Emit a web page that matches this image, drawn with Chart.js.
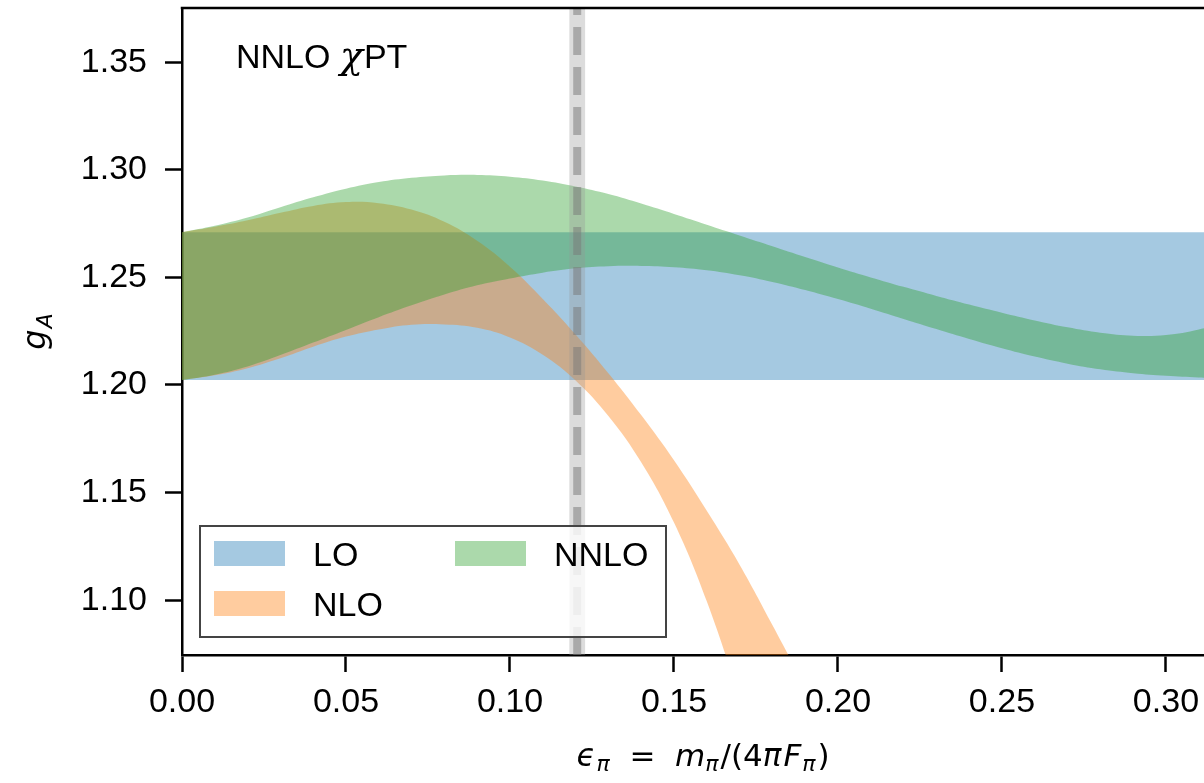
<!DOCTYPE html>
<html>
<head>
<meta charset="utf-8">
<script src="https://cdn.jsdelivr.net/npm/chart.js@4"></script>
<style>
  body { margin: 0; background: #fff; overflow: hidden; }
  #wrap { width: 1204px; height: 783px; }
</style>
</head>
<body>
<div id="wrap"><canvas id="chart"></canvas></div>
<script>
// axis limits and ticks
const X_MIN = 0, X_MAX = 0.3116
const Y_MIN = 1.0745, Y_MAX = 1.3752
const xTicks = [0.00, 0.05, 0.10, 0.15, 0.20, 0.25, 0.30]
const yTicks = [1.10, 1.15, 1.20, 1.25, 1.30, 1.35]

// LO band (constant)
const epsLO = [0.00, 0.32]
const loUpper = [1.2710, 1.2710]
const loLower = [1.2023, 1.2023]

// NLO band
const epsNLO = [0.00, 0.01, 0.02, 0.03, 0.04, 0.05, 0.06, 0.07, 0.08, 0.09, 0.10,
                0.11, 0.12, 0.13, 0.14, 0.15, 0.16, 0.17, 0.18, 0.19, 0.20]
const nloUpper = [1.2710, 1.2735, 1.2765, 1.2800, 1.2832, 1.2850, 1.2845, 1.2815, 1.2758, 1.2670, 1.2550,
                  1.2400, 1.2235, 1.2055, 1.1860, 1.1650, 1.1415, 1.1165, 1.0885, 1.0595, 1.0290]
const nloLower = [1.2023, 1.2045, 1.2078, 1.2124, 1.2178, 1.2225, 1.2258, 1.2280, 1.2281, 1.2266, 1.2221,
                  1.2141, 1.2021, 1.1856, 1.1641, 1.1361, 1.0995, 1.0540, 1.0020, 0.9450, 0.8830]

// NNLO band
const epsNNLO = [0.00, 0.01, 0.02, 0.03, 0.04, 0.05, 0.06, 0.07, 0.08, 0.09, 0.10,
                 0.11, 0.12, 0.13, 0.14, 0.15, 0.16, 0.17, 0.18, 0.19, 0.20,
                 0.21, 0.22, 0.23, 0.24, 0.25, 0.26, 0.27, 0.28, 0.29, 0.30, 0.31, 0.32]
const nnloUpper = [1.2710, 1.2740, 1.2778, 1.2826, 1.2872, 1.2912, 1.2943, 1.2963, 1.2974, 1.2976, 1.2968,
                   1.2950, 1.2922, 1.2887, 1.2843, 1.2795, 1.2745, 1.2695, 1.2645, 1.2595, 1.2546,
                   1.2500, 1.2456, 1.2414, 1.2374, 1.2336, 1.2300, 1.2268, 1.2243, 1.2229, 1.2232, 1.2258, 1.2300]
const nnloLower = [1.2023, 1.2048, 1.2086, 1.2139, 1.2197, 1.2256, 1.2315, 1.2370, 1.2420, 1.2463, 1.2495,
                   1.2522, 1.2542, 1.2552, 1.2553, 1.2547, 1.2533, 1.2510, 1.2479, 1.2441, 1.2399,
                   1.2354, 1.2307, 1.2260, 1.2214, 1.2171, 1.2132, 1.2099, 1.2073, 1.2055, 1.2043, 1.2035, 1.2030]

// physical point
const epsPhys = [0.1205]
const epsPhysErr = [0.0024]

const legendLabels = ["LO", "NLO", "NNLO"]
const bandColors = ["rgba(31,119,180,0.4)", "rgba(255,127,14,0.4)", "rgba(44,160,44,0.4)"]

const SANS = '"Liberation Sans", Arial, sans-serif'
const MATH = '"DejaVu Sans", sans-serif'

const toPoints = (xs, ys) => xs.map((x, i) => ({ x: x, y: ys[i] }))

const band = (xs, up, lo, color, order) => [{
    data: toPoints(xs, up),
    backgroundColor: color,
    borderWidth: 0,
    pointRadius: 0,
    tension: 0.4,
    fill: "+1",
    order: order
}, {
    data: toPoints(xs, lo),
    borderWidth: 0,
    pointRadius: 0,
    tension: 0.4,
    fill: false,
    order: order
}]

// draw a list of text pieces one after another
const drawPieces = (ctx, pieces, x, y, align) => {
    let total = 0
    pieces.forEach(p => { ctx.font = p.font; p.w = ctx.measureText(p.text).width; total += p.w + (p.gap || 0) })
    let cx = align === "center" ? x - total / 2 : x
    ctx.textAlign = "left"
    ctx.textBaseline = "alphabetic"
    pieces.forEach(p => {
        ctx.font = p.font
        ctx.fillText(p.text, cx, y + (p.dy || 0))
        cx += p.w + (p.gap || 0)
    })
}

const decorations = {
    id: "decorations",
    afterDatasetsDraw(chart) {
        const ctx = chart.ctx
        const a = chart.chartArea
        const xs = chart.scales.x
        ctx.save()
        ctx.beginPath()
        ctx.rect(a.left, a.top, a.right - a.left, a.bottom - a.top)
        ctx.clip()
        // physical point band
        const x0 = xs.getPixelForValue(epsPhys[0] - epsPhysErr[0])
        const x1 = xs.getPixelForValue(epsPhys[0] + epsPhysErr[0])
        ctx.fillStyle = "rgba(150,150,150,0.33)"
        ctx.fillRect(x0, a.top, x1 - x0, a.bottom - a.top)
        // dashed line
        const xc = xs.getPixelForValue(epsPhys[0])
        ctx.strokeStyle = "rgba(120,120,120,0.5)"
        ctx.lineWidth = 8
        ctx.setLineDash([28, 12])
        ctx.beginPath()
        ctx.moveTo(xc, a.bottom)
        ctx.lineTo(xc, a.top)
        ctx.stroke()
        ctx.restore()
    },
    afterDraw(chart) {
        const ctx = chart.ctx
        const a = chart.chartArea
        ctx.save()
        // top spine
        ctx.strokeStyle = "#000"
        ctx.lineWidth = 2.5
        ctx.beginPath()
        ctx.moveTo(a.left - 1.25, a.top)
        ctx.lineTo(a.right, a.top)
        ctx.stroke()

        ctx.fillStyle = "#000"
        // annotation
        drawPieces(ctx, [
            { text: "NNLO ", font: "34px " + SANS },
            { text: "χ", font: 'italic 38px "DejaVu Serif", serif', gap: 1 },
            { text: "PT", font: "34px " + SANS }
        ], a.left + 54, a.top + 60, "left")

        // x axis title
        drawPieces(ctx, [
            { text: "ϵ", font: "italic 31px " + MATH, gap: 1 },
            { text: "π", font: "italic 22px " + MATH, dy: 5 },
            { text: "  =  ", font: "31px " + MATH },
            { text: "m", font: "italic 31px " + MATH },
            { text: "π", font: "italic 22px " + MATH, dy: 5, gap: 2 },
            { text: "/(4", font: "31px " + MATH },
            { text: "π", font: "italic 31px " + MATH, gap: 2 },
            { text: "F", font: "italic 31px " + MATH, gap: 1 },
            { text: "π", font: "italic 22px " + MATH, dy: 5, gap: 2 },
            { text: ")", font: "31px " + MATH }
        ], 703, 766, "center")

        // y axis title
        ctx.save()
        ctx.translate(45, (a.top + a.bottom) / 2)
        ctx.rotate(-Math.PI / 2)
        drawPieces(ctx, [
            { text: "g", font: "italic 32px " + MATH, gap: 1 },
            { text: "A", font: "italic 22px " + MATH, dy: 7 }
        ], 0, 0, "center")
        ctx.restore()

        // legend
        const lx = a.left + 18, ly = a.bottom - 129, lw = 466, lh = 111
        ctx.fillStyle = "rgba(255,255,255,0.8)"
        ctx.fillRect(lx, ly, lw, lh)
        ctx.strokeStyle = "#444"
        ctx.lineWidth = 2
        ctx.strokeRect(lx, ly, lw, lh)
        const slots = [[0, 0], [0, 1], [1, 0]]
        legendLabels.forEach((label, i) => {
            const hx = lx + 14 + slots[i][0] * 241
            const hy = ly + 15 + slots[i][1] * 50
            ctx.fillStyle = bandColors[i]
            ctx.fillRect(hx, hy, 71, 25)
            ctx.fillStyle = "#000"
            ctx.font = "34px " + SANS
            ctx.textAlign = "left"
            ctx.textBaseline = "alphabetic"
            ctx.fillText(label, hx + 99, hy + 25)
        })
        ctx.restore()
    }
}

const tickFont = { family: SANS, size: 34 }

const chart = new Chart(document.getElementById("chart"), {
    type: "line",
    data: {
        datasets: [
            ...band(epsNNLO, nnloUpper, nnloLower, bandColors[2], 1),
            ...band(epsNLO, nloUpper, nloLower, bandColors[1], 2),
            ...band(epsLO, loUpper, loLower, bandColors[0], 3)
        ]
    },
    options: {
        responsive: true,
        maintainAspectRatio: false,
        animation: false,
        layout: { padding: { top: 8, left: 0, right: 0, bottom: 0 } },
        plugins: {
            legend: { display: false },
            tooltip: { enabled: false }
        },
        scales: {
            x: {
                type: "linear",
                min: X_MIN,
                max: X_MAX,
                afterBuildTicks: s => { s.ticks = xTicks.map(v => ({ value: v })) },
                afterFit: s => { s.height = 128; s.paddingLeft = 0; s.paddingRight = 0 },
                ticks: {
                    callback: v => v.toFixed(2),
                    font: tickFont,
                    color: "#000",
                    padding: 10,
                    maxRotation: 0,
                    autoSkip: false
                },
                grid: { drawOnChartArea: false, tickLength: 17, tickWidth: 2.5, tickColor: "#000" },
                border: { color: "#000", width: 2.5 }
            },
            y: {
                min: Y_MIN,
                max: Y_MAX,
                afterBuildTicks: s => { s.ticks = yTicks.map(v => ({ value: v })) },
                afterFit: s => { s.width = 182; s.paddingTop = 0; s.paddingBottom = 0 },
                ticks: {
                    callback: v => v.toFixed(2),
                    font: tickFont,
                    color: "#000",
                    padding: 18,
                    autoSkip: false
                },
                grid: { drawOnChartArea: false, tickLength: 17, tickWidth: 2.5, tickColor: "#000" },
                border: { color: "#000", width: 2.5 }
            }
        }
    },
    plugins: [decorations]
})
</script>
</body>
</html>
